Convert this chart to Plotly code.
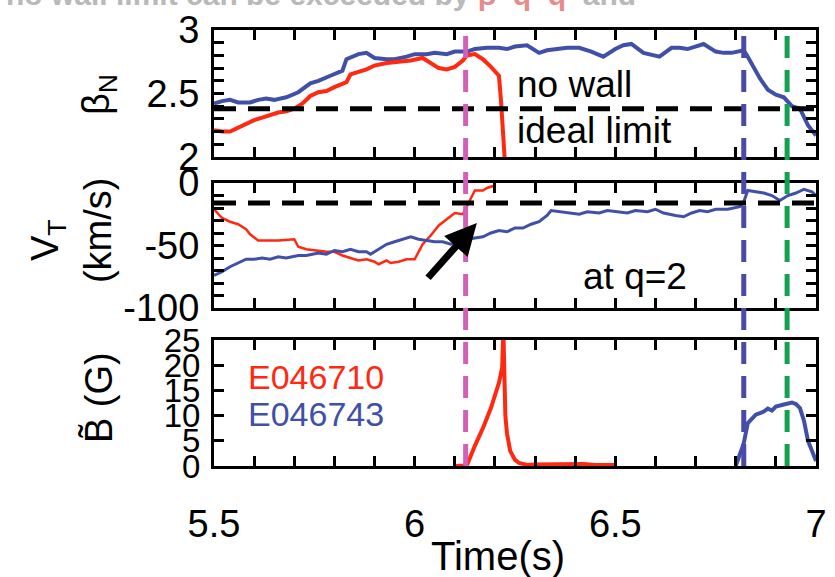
import plotly.graph_objects as go

# ---------------- data ----------------
# beta_N panel
t_bn_blue = [5.50, 5.52, 5.54, 5.56, 5.59, 5.61, 5.63, 5.65, 5.68, 5.71, 5.74, 5.76, 5.79, 5.82, 5.83,
             5.86, 5.88, 5.90, 5.93, 5.95, 5.98, 6.00, 6.03, 6.05, 6.08, 6.10, 6.13, 6.15, 6.18, 6.21,
             6.23, 6.25, 6.28, 6.31, 6.33, 6.35, 6.38, 6.41, 6.44, 6.47, 6.50, 6.52, 6.54, 6.57, 6.61,
             6.64, 6.66, 6.68, 6.70, 6.72, 6.75, 6.77, 6.79, 6.82, 6.83, 6.86, 6.88, 6.90, 6.92, 6.94,
             6.96, 6.98, 7.00]
bn_blue = [2.42, 2.44, 2.45, 2.43, 2.43, 2.45, 2.46, 2.45, 2.47, 2.51, 2.58, 2.60, 2.64, 2.68, 2.77,
           2.81, 2.82, 2.78, 2.77, 2.77, 2.79, 2.81, 2.81, 2.82, 2.81, 2.83, 2.83, 2.85, 2.86, 2.86,
           2.85, 2.87, 2.88, 2.82, 2.84, 2.85, 2.86, 2.86, 2.83, 2.79, 2.85, 2.88, 2.89, 2.82, 2.79,
           2.86, 2.86, 2.85, 2.87, 2.89, 2.83, 2.82, 2.82, 2.84, 2.79, 2.62, 2.53, 2.49, 2.47, 2.40,
           2.38, 2.25, 2.17]
t_bn_red = [5.50, 5.52, 5.54, 5.56, 5.58, 5.60, 5.62, 5.64, 5.66, 5.68, 5.70, 5.72, 5.74, 5.76, 5.78,
            5.80, 5.83, 5.84, 5.86, 5.88, 5.90, 5.93, 5.96, 5.99, 6.02, 6.04, 6.06, 6.08, 6.10, 6.12,
            6.13, 6.15, 6.17, 6.19, 6.21, 6.215, 6.22, 6.225]
bn_red = [2.21, 2.20, 2.20, 2.23, 2.26, 2.29, 2.31, 2.33, 2.35, 2.36, 2.38, 2.42, 2.48, 2.51, 2.52,
          2.55, 2.59, 2.65, 2.67, 2.69, 2.72, 2.74, 2.75, 2.76, 2.78, 2.74, 2.70, 2.69, 2.71, 2.76,
          2.80, 2.81, 2.77, 2.71, 2.64, 2.45, 2.22, 1.95]

# toroidal rotation at q=2 (km/s)
t_vt_red = [5.50, 5.52, 5.54, 5.56, 5.58, 5.59, 5.61, 5.63, 5.66, 5.70, 5.71, 5.73, 5.75, 5.78, 5.80,
            5.82, 5.84, 5.86, 5.88, 5.90, 5.91, 5.93, 5.94, 5.96, 5.98, 6.00, 6.02, 6.04, 6.06, 6.08,
            6.10, 6.12, 6.13, 6.14, 6.15, 6.17, 6.18, 6.20]
vt_red = [-21, -28, -31, -33, -37, -41, -46, -46, -46, -45, -51, -53, -54, -55, -55,
          -58, -60, -62, -61, -63, -65, -62, -64, -63, -61, -61, -49, -42, -34, -29,
          -24, -25, -19, -12, -6, -6, -4, -2]
t_vt_blue = [5.50, 5.52, 5.54, 5.56, 5.58, 5.60, 5.62, 5.64, 5.66, 5.68, 5.71, 5.73, 5.76, 5.78, 5.80,
             5.82, 5.84, 5.86, 5.88, 5.89, 5.91, 5.93, 5.95, 5.97, 5.99, 6.01, 6.03, 6.05, 6.07, 6.09,
             6.11, 6.13, 6.15, 6.17, 6.19, 6.21, 6.23, 6.25, 6.27, 6.29, 6.31, 6.33, 6.34, 6.36, 6.38,
             6.41, 6.43, 6.46, 6.48, 6.50, 6.53, 6.55, 6.58, 6.60, 6.62, 6.65, 6.67, 6.69, 6.71, 6.73,
             6.75, 6.78, 6.80, 6.81, 6.82, 6.83, 6.85, 6.87, 6.89, 6.91, 6.93, 6.95, 6.97, 6.99, 7.00]
vt_blue = [-74, -71, -67, -64, -61, -61, -60, -61, -59, -60, -58, -58, -56, -57, -54,
           -55, -53, -55, -55, -57, -53, -49, -47, -45, -43, -45, -46, -47, -47, -49,
           -46, -45, -44, -43, -40, -38, -39, -36, -36, -33, -31, -26, -22, -23, -24,
           -25, -23, -24, -22, -23, -24, -22, -23, -21, -24, -26, -27, -24, -22, -23,
           -21, -21, -20, -19, -15, -6, -7, -8, -10, -14, -10, -8, -5, -7, -10]

# magnetic perturbation (G)
t_b_red = [6.10, 6.13, 6.15, 6.17, 6.19, 6.21, 6.218, 6.221, 6.226, 6.23, 6.238, 6.25, 6.26, 6.28,
           6.30, 6.35, 6.40, 6.42, 6.45, 6.50]
b_red = [0.0, 0.1, 4.0, 7.5, 11.5, 16.5, 19.5, 27.0, 10.0, 6.5, 3.0, 1.2, 0.6, 0.2,
         0.3, 0.3, 0.3, 0.4, 0.2, 0.2]
t_b_blue = [6.80, 6.81, 6.82, 6.83, 6.84, 6.85, 6.87, 6.88, 6.89, 6.90, 6.92, 6.94, 6.95, 6.96,
            6.97, 6.98, 6.99, 7.00]
b_blue = [0.0, 2.0, 4.5, 8.5, 9.5, 10.2, 10.8, 11.4, 11.0, 11.8, 12.2, 12.6, 12.3, 11.5,
          9.0, 5.0, 3.0, 1.0]

# reference levels and event times
bn_no_wall = 2.38
vt_threshold = -16
t_events = [6.127, 6.82, 6.928]
event_colors = ["#d060b8", "#4a4aa8", "#14a050"]

# tick labels
x_tick_labels = ["5.5", "6", "6.5", "7"]
bn_tick_labels = ["2", "2.5", "3"]
vt_tick_labels = ["-100", "-50", "0"]
b_tick_labels = ["0", "5", "10", "15", "20", "25"]

shot_names = ["E046710", "E046743"]

RED = "#ff2810"
BLUE = "#4050a8"
FONT = "Liberation Sans, Arial, sans-serif"

# ---------------- figure ----------------
fig = go.Figure()
fig.add_trace(go.Scatter(x=t_bn_blue, y=bn_blue, xaxis="x", yaxis="y", mode="lines",
                         line=dict(color=BLUE, width=4)))
fig.add_trace(go.Scatter(x=t_bn_red, y=bn_red, xaxis="x", yaxis="y", mode="lines",
                         line=dict(color=RED, width=4)))
fig.add_trace(go.Scatter(x=t_vt_red, y=vt_red, xaxis="x2", yaxis="y2", mode="lines",
                         line=dict(color=RED, width=2.5)))
fig.add_trace(go.Scatter(x=t_vt_blue, y=vt_blue, xaxis="x2", yaxis="y2", mode="lines",
                         line=dict(color=BLUE, width=3)))
fig.add_trace(go.Scatter(x=t_b_red, y=b_red, xaxis="x3", yaxis="y3", mode="lines",
                         line=dict(color=RED, width=4)))
fig.add_trace(go.Scatter(x=t_b_blue, y=b_blue, xaxis="x3", yaxis="y3", mode="lines",
                         line=dict(color=BLUE, width=4)))


def frac_ticks(lo, hi, step, labels):
    n = int(round((hi - lo) / step))
    vals = [round(lo + i * step, 6) for i in range(n + 1)]
    lab = {float(s): s for s in labels}
    text = [lab.get(float(v), "") for v in vals]
    return vals, text


axis_common = dict(showline=True, linecolor="black", linewidth=3, mirror="ticks",
                   ticks="inside", ticklen=10, tickwidth=2.5, tickcolor="black",
                   showgrid=False, zeroline=False,
                   tickfont=dict(family=FONT, size=38, color="black"))

H_TOT = 577 - 30 - 111


def dom(y_top, y_bot):
    return [(466 - y_bot) / H_TOT, (466 - y_top) / H_TOT]


xv, xt = frac_ticks(5.5, 7.0, 0.1, x_tick_labels)
xv_blank = ["" for _ in xv]

y1v, y1t = frac_ticks(2.0, 3.0, 0.1, bn_tick_labels)
y2v, y2t = frac_ticks(-100, 0, 10, vt_tick_labels)
y3v, y3t = frac_ticks(0, 25, 5, b_tick_labels)

fig.update_layout(
    width=835, height=577,
    margin=dict(l=214, r=8, t=30, b=111),
    paper_bgcolor="white", plot_bgcolor="white",
    showlegend=False,
    xaxis=dict(axis_common, range=[5.5, 7.0], anchor="y", tickvals=xv, ticktext=xv_blank,
               domain=[0, 1]),
    xaxis2=dict(axis_common, range=[5.5, 7.0], anchor="y2", tickvals=xv, ticktext=xv_blank,
                matches="x", domain=[0, 1]),
    xaxis3=dict(axis_common, range=[5.5, 7.0], anchor="y3", tickvals=xv, ticktext=xt,
                matches="x", domain=[0, 1], ticklabelstandoff=22),
    yaxis=dict(axis_common, range=[2.0, 3.0], domain=dom(30, 157), anchor="x",
               tickvals=y1v, ticktext=y1t, ticklabelstandoff=4),
    yaxis2=dict(axis_common, range=[-100, 0], domain=dom(183, 308), anchor="x2",
                tickvals=y2v, ticktext=y2t, ticklabelstandoff=4),
    yaxis3=dict(axis_common, range=[0, 25], domain=dom(340, 466), anchor="x3",
                tickvals=y3v, ticktext=y3t, ticklabelstandoff=4,
                tickfont=dict(family=FONT, size=33, color="black")),
)

# horizontal reference lines
fig.add_shape(type="line", xref="x", yref="y", x0=5.5, x1=7.0, y0=bn_no_wall, y1=bn_no_wall,
              line=dict(color="black", width=5, dash="22px,12px"))
fig.add_shape(type="line", xref="x2", yref="y2", x0=5.5, x1=7.0, y0=vt_threshold, y1=vt_threshold,
              line=dict(color="black", width=5, dash="22px,12px"))

# vertical event lines through all panels
for te, col in zip(t_events, event_colors):
    fig.add_shape(type="line", xref="x3", yref="paper", x0=te, x1=te, y0=0, y1=1,
                  line=dict(color=col, width=5, dash="22px,12px"))

# texts
txt_font = dict(family=FONT, size=37, color="black")
fig.add_annotation(x=6.25, y=2.57, xref="x", yref="y", text="no wall", showarrow=False,
                   xanchor="left", yanchor="middle", font=txt_font)
fig.add_annotation(x=6.25, y=2.21, xref="x", yref="y", text="ideal limit", showarrow=False,
                   xanchor="left", yanchor="middle", font=txt_font)
fig.add_annotation(x=6.55, y=-75, xref="x2", yref="y2", text="at q=2", showarrow=False,
                   xanchor="center", yanchor="middle", font=txt_font)
fig.add_annotation(x=6.155, y=-32, ax=6.03, ay=-77, xref="x2", yref="y2", axref="x2", ayref="y2",
                   text="", showarrow=True, arrowhead=2, arrowsize=0.9, arrowwidth=7,
                   arrowcolor="black")
fig.add_annotation(x=5.58, y=17.6, xref="x3", yref="y3", text=shot_names[0], showarrow=False,
                   xanchor="left", yanchor="middle",
                   font=dict(family=FONT, size=34, color=RED))
fig.add_annotation(x=5.58, y=10.3, xref="x3", yref="y3", text=shot_names[1], showarrow=False,
                   xanchor="left", yanchor="middle",
                   font=dict(family=FONT, size=34, color=BLUE))


def px_x(x):
    return (x - 214) / 613


def px_y(y):
    return (466 - y) / H_TOT


title_font = dict(family=FONT, size=38, color="black")
fig.add_annotation(x=px_x(97), y=px_y(95), xref="paper", yref="paper", text="β<sub>N</sub>",
                   textangle=-90, showarrow=False, xanchor="center", yanchor="middle", font=title_font)
fig.add_annotation(x=px_x(45), y=px_y(240), xref="paper", yref="paper", text="V<sub>T</sub>",
                   textangle=-90, showarrow=False, xanchor="center", yanchor="middle", font=title_font)
fig.add_annotation(x=px_x(96), y=px_y(230), xref="paper", yref="paper", text="(km/s)",
                   textangle=-90, showarrow=False, xanchor="center", yanchor="middle", font=title_font)
fig.add_annotation(x=px_x(97), y=px_y(398), xref="paper", yref="paper", text="B\u0303 (G)",
                   textangle=-90, showarrow=False, xanchor="center", yanchor="middle", font=title_font)
fig.add_annotation(x=px_x(503), y=px_y(556), xref="paper", yref="paper", text="Time(s)",
                   showarrow=False, xanchor="center", yanchor="middle",
                   font=dict(family=FONT, size=40, color="black"))

# faded, clipped caption at the very top (only its lower edge shows in the reference)
fig.add_annotation(x=px_x(0), y=px_y(-6), xref="paper", yref="paper",
                   text="<b>no wall limit can be exceeded by <span style='color:#e07070'>β</span>"
                        "  <span style='color:#e07070'>q</span>  <span style='color:#e07070'>q</span>"
                        "  and</b>",
                   showarrow=False, xanchor="left", yanchor="middle", opacity=0.8,
                   font=dict(family=FONT, size=30, color="#a8a8a8"))

fig.write_html("out.html")
